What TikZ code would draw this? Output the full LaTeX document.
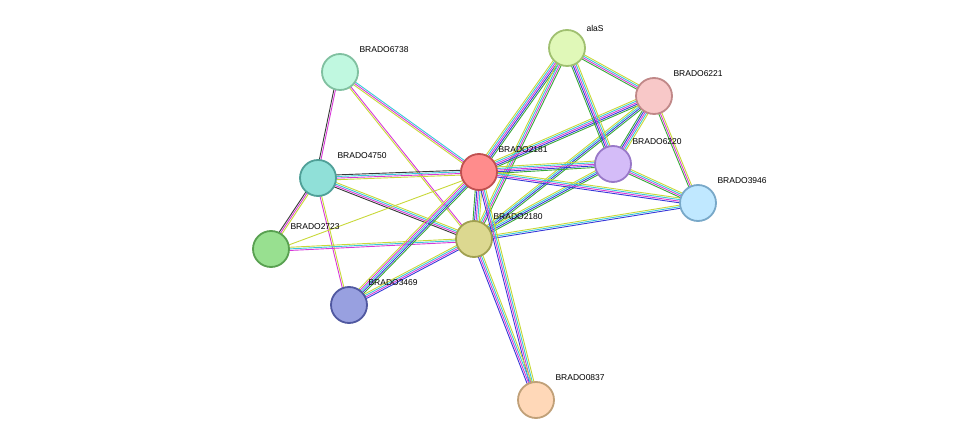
\documentclass[tikz,border=0pt]{standalone}
\usepackage{fontspec}
\setmainfont{Liberation Sans}
\usetikzlibrary{calc}

\definecolor{tm}{HTML}{C8D838}
\definecolor{ex}{HTML}{D838D8}
\definecolor{db}{HTML}{38C8D8}
\definecolor{nb}{HTML}{38A838}
\definecolor{co}{HTML}{3838D8}
\definecolor{cx}{HTML}{383838}

\definecolor{fAla}{HTML}{E0F8B8}\definecolor{dAla}{HTML}{A0C070}
\definecolor{fA}{HTML}{C0F8E0}\definecolor{dA}{HTML}{80C0A0}
\definecolor{fB}{HTML}{F8C8C8}\definecolor{dB}{HTML}{C08888}
\definecolor{fC}{HTML}{FF8C8C}\definecolor{dC}{HTML}{C05050}
\definecolor{fD}{HTML}{D4BCF8}\definecolor{dD}{HTML}{9878C8}
\definecolor{fE}{HTML}{90E0D8}\definecolor{dE}{HTML}{50A098}
\definecolor{fF}{HTML}{C0E8FF}\definecolor{dF}{HTML}{78A8C8}
\definecolor{fG}{HTML}{DCD890}\definecolor{dG}{HTML}{A0A050}
\definecolor{fH}{HTML}{98E090}\definecolor{dH}{HTML}{58A050}
\definecolor{fI}{HTML}{98A0E0}\definecolor{dI}{HTML}{5058A0}
\definecolor{fJ}{HTML}{FFD8B8}\definecolor{dJ}{HTML}{C0A078}

% parallel coloured lines between two nodes
\newcommand{\edge}[3]{%
  \foreach \c [count=\i] in {#3} {
    \draw[\c, line width=0.9pt]
      ($(#1)!{(\i-2.5)*1.6pt}!90:(#2)$) -- ($(#2)!{(\i-2.5)*1.6pt}!-90:(#1)$);
  }}

\tikzset{
  prot/.style={circle, minimum size=36pt, inner sep=0pt, line width=1.8pt},
  lbl/.style={font=\fontsize{8.5}{10}\selectfont, anchor=west},
}

\begin{document}
\begin{tikzpicture}[x=1pt, y=-1pt]
  \useasboundingbox (0,0) rectangle (975,446);

  \coordinate (alaS) at (567,48);
  \coordinate (b6738) at (340,72);
  \coordinate (b6221) at (654,96);
  \coordinate (b2181) at (479,172);
  \coordinate (b6220) at (613,164);
  \coordinate (b4750) at (318,178);
  \coordinate (b3946) at (698,203);
  \coordinate (b2180) at (474,239);
  \coordinate (b2723) at (271,249);
  \coordinate (b3469) at (349,305);
  \coordinate (b0837) at (536,400);

  % edges
  \edge{b6738}{b4750}{cx,ex}
  \edge{b6738}{b2181}{tm,ex,db}
  \edge{b6738}{b2180}{tm,ex}
  \edge{b4750}{b2181}{tm,ex,db,cx}
  \edge{b4750}{b2180}{cx,ex,db,tm}
  \edge{b4750}{b2723}{cx,ex,tm}
  \edge{b4750}{b3469}{ex,tm}
  \edge{b2723}{b2181}{tm}
  \edge{b2723}{b2180}{ex,db,tm}
  \edge{b3469}{b2181}{nb,co,db,ex,tm}
  \edge{b3469}{b2180}{co,ex,db,tm}
  \edge{b2181}{b2180}{nb,co,ex,db,tm}
  \edge{b2181}{alaS}{nb,co,ex,db,tm}
  \edge{b2180}{alaS}{nb,ex,db,tm}
  \edge{b2181}{b6221}{nb,co,ex,db,tm}
  \edge{b2180}{b6221}{nb,co,db,tm}
  \edge{b2181}{b6220}{nb,co,ex,db,tm}
  \edge{b2180}{b6220}{nb,co,db,tm}
  \edge{b2181}{b3946}{co,ex,db,tm}
  \edge{b2180}{b3946}{co,db,tm}
  \edge{alaS}{b6221}{nb,ex,db,tm}
  \edge{alaS}{b6220}{nb,co,ex,db,tm}
  \edge{b6221}{b6220}{nb,co,ex,db,tm}
  \edge{b6221}{b3946}{nb,ex,tm}
  \edge{b6220}{b3946}{nb,ex,db,tm}
  \edge{b2181}{b0837}{co,ex,db,tm}
  \edge{b2180}{b0837}{co,ex,db,tm}

  % proteins
  \node[prot, fill=fAla, draw=dAla] (nalaS) at (alaS) {};
  \node[prot, fill=fA, draw=dA] (n6738) at (b6738) {};
  \node[prot, fill=fB, draw=dB] (n6221) at (b6221) {};
  \node[prot, fill=fC, draw=dC] (n2181) at (b2181) {};
  \node[prot, fill=fD, draw=dD] (n6220) at (b6220) {};
  \node[prot, fill=fE, draw=dE] (n4750) at (b4750) {};
  \node[prot, fill=fF, draw=dF] (n3946) at (b3946) {};
  \node[prot, fill=fG, draw=dG] (n2180) at (b2180) {};
  \node[prot, fill=fH, draw=dH] (n2723) at (b2723) {};
  \node[prot, fill=fI, draw=dI] (n3469) at (b3469) {};
  \node[prot, fill=fJ, draw=dJ] (n0837) at (b0837) {};

  % labels
  \node[lbl] at ($(alaS)+(16,-20)$) {alaS};
  \node[lbl] at ($(b6738)+(16,-22)$) {BRADO6738};
  \node[lbl] at ($(b6221)+(16,-22)$) {BRADO6221};
  \node[lbl] at ($(b2181)+(16,-22)$) {BRADO2181};
  \node[lbl] at ($(b6220)+(16,-22)$) {BRADO6220};
  \node[lbl] at ($(b4750)+(16,-22)$) {BRADO4750};
  \node[lbl] at ($(b3946)+(16,-22)$) {BRADO3946};
  \node[lbl] at ($(b2180)+(16,-22)$) {BRADO2180};
  \node[lbl] at ($(b2723)+(16,-22)$) {BRADO2723};
  \node[lbl] at ($(b3469)+(16,-22)$) {BRADO3469};
  \node[lbl] at ($(b0837)+(16,-22)$) {BRADO0837};
\end{tikzpicture}
\end{document}
